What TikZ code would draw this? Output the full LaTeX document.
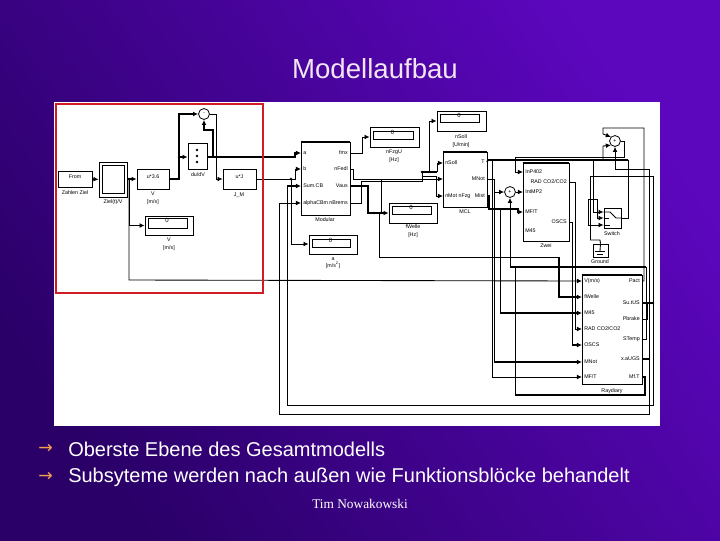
\documentclass[tikz,border=0pt]{standalone}
\usepackage{fontspec}
\setmainfont{Liberation Sans}
\newfontfamily\footfont{Liberation Serif}
\newfontfamily\arrfont{DejaVu Sans}
\usepackage{tikz}
\usetikzlibrary{arrows.meta,fit,shadows}
\definecolor{slidelo}{HTML}{2A0068}
\definecolor{slidehi}{HTML}{5C06BE}
\definecolor{framered}{HTML}{D01C24}
\definecolor{bulletor}{HTML}{F0A050}

\begin{document}
\begin{tikzpicture}[
  x=0.75pt, y=-0.75pt,
  blk/.style={draw, line width=0.6pt, inner sep=0pt, fill=white, font=\fontsize{4}{4}\selectfont, drop shadow={shadow xshift=0.6pt, shadow yshift=-0.7pt, fill=black, opacity=1}},
  big/.style={draw, line width=0.6pt, inner sep=0pt, fill=white},
  inbox/.style={draw, line width=0.5pt, inner sep=0pt, font=\fontsize{4.5}{4.5}\selectfont, align=right},
  lbl/.style={inner sep=0pt, font=\fontsize{4}{4.6}\selectfont, align=center},
  pl/.style={inner sep=0pt, anchor=west, xshift=1.5pt, font=\fontsize{4}{4}\selectfont},
  pr/.style={inner sep=0pt, anchor=east, xshift=-1.5pt, font=\fontsize{4}{4}\selectfont},
  sumc/.style={draw, circle, line width=0.6pt, inner sep=0pt, minimum size=8.2pt, fill=white, font=\fontsize{4}{4}\selectfont},
  wire/.style={line width=0.65pt},
  wirea/.style={line width=0.65pt, -{Latex[length=3.8pt,width=3.6pt]}},
  fat/.style={line width=1.15pt},
  fata/.style={line width=1.15pt, -{Latex[length=3.8pt,width=3.6pt]}},
  jdot/.style={circle, fill=black, inner sep=0pt, minimum size=2pt},
  bullet/.style={inner sep=0pt, anchor=west, text=white, font=\fontsize{15}{15}\selectfont},
  barrow/.style={inner sep=0pt, anchor=west, text=bulletor, font=\arrfont\fontsize{13}{13}\selectfont}
]
\useasboundingbox (0,0) rectangle (720,540);
\shade[left color=slidelo, right color=slidehi, shading angle=125] (0,0) rectangle (720,540);
\fill[white] (54,102) rectangle (660,426);

\node[text=white!90!violet, inner sep=0pt, font=\fontsize{20.7}{20.7}\selectfont] (title) at (375,69) {Modellaufbau};

\node[blk, fit={(58,171)(92,187)}] (zdat) {From};
\node[lbl] (zdatc) at (75,193) {Zahlen Ziel};
\node[blk, fit={(99,162)(127,197)}] (zscope) {};
\node[inbox, fit={(102,165)(124,193)}] (zscopei) {};
\node[lbl] (zscopec) at (113,202) {Ziel(t)/V};
\node[blk, fit={(137,169)(169,189)}] (vgain) {u*3.6};
\node[lbl] (vgainc) at (153,198) {V\\[1pt][m/s]};
\node[blk, fit={(145,216)(193,235)}] (vdisp) {};
\node[inbox, fit={(148,218)(187,228)}] (vdispi) {0\,};
\node[lbl] (vdispc) at (169,244) {V\\[1pt][m/s]};
\node[blk, fit={(188,143)(207,169)}] (dudv) {};
\node[jdot] (dudv1) at (197,150) {};
\node[jdot] (dudv2) at (197,156) {};
\node[jdot] (dudv3) at (197,162) {};
\node[lbl] (dudvc) at (198,175) {du/dV};
\node[sumc] (sum1) at (204,114) {-};
\node[blk, fit={(223,169)(256,189)}] (jgain) {u*J};
\node[lbl] (jgainc) at (239,195) {J\_M};

\node[big, fit={(301,142)(350,215)}] (mod) {};
\node[lbl] (modc) at (325,220) {Modular};
\node[big, fit={(443,152)(487,207)}] (mcl) {};
\node[lbl] (mclc) at (465,212) {MCL};
\node[big, fit={(523,163)(569,241)}] (zwei) {};
\node[lbl] (zweic) at (546,246) {Zwei};
\node[big, fit={(582,275)(642,384)}] (ray) {};
\node[lbl] (rayc) at (612,391) {Raydiary};

\node[blk, fit={(370,127)(419,147)}] (nfzg) {};
\node[inbox, fit={(373,131)(413,139)}] (nfzgi) {0\,};
\node[lbl] (nfzgc) at (394,156) {nFzgU\\[1pt][Hz]};
\node[blk, fit={(437,111)(486,131)}] (nsoll) {};
\node[inbox, fit={(440,114)(479,122)}] (nsolli) {0\,};
\node[lbl] (nsollc) at (461,141) {nSoll\\[1pt][U/min]};
\node[blk, fit={(389,203)(437,223)}] (fwel) {};
\node[inbox, fit={(392,206)(431,214)}] (fweli) {0\,};
\node[lbl] (fwelc) at (413,231) {fWelle\\[1pt][Hz]};
\node[blk, fit={(309,235)(357,254)}] (adisp) {};
\node[inbox, fit={(312,239)(350,247)}] (adispi) {0\,};
\node[lbl] (adispc) at (333,263) {a\\[1pt][m/s\textsuperscript{2}]};

\node[sumc] (sum2) at (510,192) {+};
\node[sumc] (sum3) at (615,141) {+};
\node[blk, fit={(604,208)(621,228)}] (sw) {};
\node[lbl] (swc) at (612,234) {Switch};
\node[blk, fit={(593,244)(608,257)}] (gnd) {};
\node[lbl] (gndc) at (600,262) {Ground};

\draw[wire] (sw.west |- 0,212) -- (610,212) -- (616,218) -- (sw.east);
\draw[wire] (sw.west) -- (609,218);
\draw[wire] (sw.west |- 0,225) -- (610,225);
\draw[wire] (gnd.north) -- (600,251);
\draw[wire] (595,251) -- (605,251);
\draw[wire] (597,254) -- (603,254);

\coordinate (modl1) at (301,153);
\coordinate (modl2) at (301,169);
\coordinate (modl3) at (301,186);
\coordinate (modl4) at (301,203);
\coordinate (modr1) at (350,153);
\coordinate (modr2) at (350,169);
\coordinate (modr3) at (350,186);
\coordinate (modr4) at (350,203);
\node[pl] (modt1) at (modl1) {a};
\node[pl] (modt2) at (modl2) {b};
\node[pl] (modt3) at (modl3) {Sum.CB};
\node[pl] (modt4) at (modl4) {alphaCBm};
\node[pr] (modt5) at (modr1) {fmx};
\node[pr] (modt6) at (modr2) {nFedl};
\node[pr] (modt7) at (modr3) {Vaus};
\node[pr] (modt8) at (modr4) {nBrems};

\coordinate (mcll1) at (443,163);
\coordinate (mcll2) at (443,179);
\coordinate (mcll3) at (443,196);
\coordinate (mclr1) at (487,162);
\coordinate (mclr2) at (487,179);
\coordinate (mclr3) at (487,196);
\node[pl] (mclt1) at (mcll1) {nSoll};
\node[pl] (mclt2) at (mcll3) {nMot nFzg};
\node[pr] (mclt3) at (mclr1) {T};
\node[pr] (mclt4) at (mclr2) {MNot};
\node[pr] (mclt5) at (mclr3) {Mist};

\coordinate (zwl1) at (523,172);
\coordinate (zwl2) at (523,192);
\coordinate (zwl3) at (523,212);
\coordinate (zwl4) at (523,231);
\coordinate (zwr1) at (569,182);
\coordinate (zwr2) at (569,222);
\node[pl] (zwt1) at (zwl1) {InP402};
\node[pl] (zwt2) at (zwl2) {IntMP2};
\node[pl] (zwt3) at (zwl3) {MF/T};
\node[pl] (zwt4) at (zwl4) {M45};
\node[pr] (zwt5) at (zwr1) {RAD CO2/CO2};
\node[pr] (zwt6) at (zwr2) {OSCS};

\coordinate (rayl1) at (582,281);
\coordinate (rayl2) at (582,297);
\coordinate (rayl3) at (582,313);
\coordinate (rayl4) at (582,329);
\coordinate (rayl5) at (582,345);
\coordinate (rayl6) at (582,362);
\coordinate (rayl7) at (582,377);
\coordinate (rayr1) at (642,281);
\coordinate (rayr2) at (642,303);
\coordinate (rayr3) at (642,319);
\coordinate (rayr4) at (642,339);
\coordinate (rayr5) at (642,359);
\coordinate (rayr6) at (642,377);
\node[pl] (rayt1) at (rayl1) {V(m/s)};
\node[pl] (rayt2) at (rayl2) {fWelle};
\node[pl] (rayt3) at (rayl3) {M45};
\node[pl] (rayt4) at (rayl4) {RAD CO2/CO2};
\node[pl] (rayt5) at (rayl5) {OSCS};
\node[pl] (rayt6) at (rayl6) {MNot};
\node[pl] (rayt7) at (rayl7) {MF/T};
\node[pr] (rayt8) at (rayr1) {Pact};
\node[pr] (rayt9) at (rayr2) {Su.tUS};
\node[pr] (rayt10) at (rayr3) {Pbrake};
\node[pr] (rayt11) at (rayr4) {STemp};
\node[pr] (rayt12) at (rayr5) {x.aUGS};
\node[pr] (rayt13) at (rayr6) {Mf.T};

\coordinate (v1) at (129,179);
\coordinate (v2) at (179,157);
\coordinate (a1) at (291,179);
\coordinate (s1) at (213,157);
\coordinate (f1) at (422,172);
\coordinate (w1) at (381,213);
\coordinate (w2) at (374,213);
\coordinate (m2) at (494,192);
\coordinate (m3) at (500,209);
\coordinate (t1) at (492,160);
\coordinate (t2) at (515,157);
\coordinate (t3) at (593,160);
\coordinate (b1) at (653,303);
\coordinate (b2) at (649,359);

\draw[fata] (zdat.east) -- (zscope.west);
\draw[fata] (zscope.east |- v1) -- (vgain.west);
\draw[wirea] (v1) |- (vdisp.west);
\draw[wirea] (v1) -- (129,280) -- (rayl1);
\draw[fata] (vgain.east) -- (179,179) -- (179,114) -- (sum1.west);
\draw[fata] (v2) -- (dudv.west |- v2);
\draw[fata] (dudv.east |- s1) -- (295,157) -- (295,153) -- (modl1);
\draw[fata] (s1) -- (213,130) -- (204,130) -- (sum1.south);
\draw[wirea] (sum1.east) -- (216,114) -- (216,179) -- (jgain.west);
\draw[wirea] (jgain.east) -- (295,179) -- (295,169) -- (modl2);
\draw[wirea] (a1) -- (291,244) -- (adisp.west |- 0,244);
\node[jdot] (d1) at (v1) {};
\node[jdot] (d2) at (v2) {};
\node[jdot] (d3) at (a1) {};

\draw[wire] (287,405) -- (287,186);
\draw[fata] (287,186) -- (modl3);
\draw[wirea] (279,414) -- (279,203) -- (modl4);
\draw[wirea] (modr1) -- (362,153) -- (362,137) -- (nfzg.west);
\draw[wirea] (modr2) -- (353,169) -- (353,179) -- (mcll2);
\draw[fata] (modr3) -- (368,186) -- (368,213) -- (fwel.west);
\draw[wire] (modr4) -- (361,203) -- (361,181) -- (422,181) -- (f1);
\draw[fat] (f1) -- (437,172);
\draw[wirea] (f1) -- (429,172) -- (429,121) -- (nsoll.west);
\draw[wirea] (437,172) -- (437,163) -- (mcll1);
\draw[wirea] (422,176) -- (436,176) -- (436,196) -- (mcll3);
\draw[wire] (381,179) -- (w1);
\draw[wire] (379,213) -- (379,257) -- (559,257);
\draw[fata] (559,257) -- (559,297) -- (rayl2);
\node[jdot] (d4) at (w2) {};
\node[jdot] (d5) at (w1) {};
\node[jdot] (d6) at (f1) {};

\draw[fat] (mclr1) -- (488,160) -- (628,160);
\draw[wire] (628,160) -- (628,218) -- (sw.east);
\draw[fata] (mclr3) -- (489,196) -- (489,209) -- (518,209) -- (518,212) -- (zwl3);
\draw[wire] (m3) -- (500,313);
\draw[fata] (500,313) -- (rayl3);
\draw[wire] (mclr2) -- (494,179) -- (494,362);
\draw[fata] (494,362) -- (rayl6);
\draw[wirea] (m2) -- (sum2.west);
\draw[wirea] (sum2.east) -- (zwl2);
\draw[wirea] (t1) -- (492,377) -- (rayl7);
\draw[wirea] (zwr1) -- (575,182) -- (575,329) -- (rayl4);
\draw[wire] (zwr2) -- (572,222) -- (572,345);
\draw[fata] (572,345) -- (rayl5);

\draw[wirea] (sum3.east) -- (624,141) -- (624,157) -- (t2) -- (515,172) -- (zwl1);
\draw[wirea] (rayr1) -- (644,281) -- (644,128) -- (603,128) -- (603,134) -- (sum3.north west);
\draw[wirea] (603,160) -- (603,146) -- (sum3.south west);
\draw[wirea] (t3) -- (593,212) -- (sw.west |- 0,212);
\draw[wire] (588,199) -- (597,199);
\draw[wirea] (597,199) -- (597,218) -- (sw.west);
\draw[wirea] (588,199) -- (588,225) -- (sw.west |- 0,225);
\draw[wire] (590,240) -- (590,176) -- (653,176) -- (653,405) -- (287,405);
\draw[wire] (590,240) -- (600,240) -- (gnd.north);
\draw[fat] (rayr2) -- (b1);
\draw[wire] (rayr3) -- (647,319) -- (647,303);
\node[jdot] (d7) at (b1) {};
\draw[fat] (rayr5) -- (b2);
\draw[wire] (b2) -- (649,414) -- (279,414);
\draw[wirea] (b2) -- (649,169) -- (615,169) -- (sum3.south);
\draw[wire] (rayr4) -- (646,339) -- (646,267);
\draw[fat] (646,267) -- (510,267);
\draw[wirea] (510,267) -- (sum2.south);
\draw[fat] (rayr6) -- (645,377) -- (645,395) -- (515,395);
\draw[wire] (515,395) -- (515,267);

\draw[line width=1.2pt] (mod.north west) -- (mod.north east);
\draw[line width=1.2pt] (mcl.north west) -- (mcl.north east);
\draw[line width=1.2pt] (zwei.north west) -- (zwei.north east);
\draw[line width=1.2pt] (ray.north west) -- (ray.north east);

\draw[framered, line width=1.5pt] (55.5,103.5) rectangle (263,292.5);

\node[barrow] (arr1) at (38,449) {→};
\node[bullet] (txt1) at (68,449) {Oberste Ebene des Gesamtmodells};
\node[barrow] (arr2) at (38,477) {→};
\node[bullet] (txt2) at (68,477) {Subsyteme werden nach außen wie Funktionsblöcke behandelt};
\node[inner sep=0pt, text=white, font=\footfont\fontsize{10}{10}\selectfont] (foot) at (360,504) {Tim Nowakowski};
\end{tikzpicture}
\end{document}
